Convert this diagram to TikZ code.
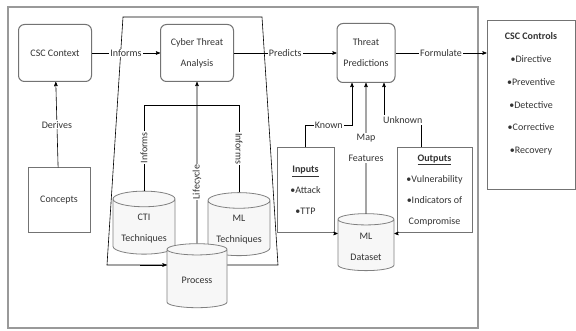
\documentclass[tikz,border=0pt]{standalone}
\usepackage{fontspec}
\setmainfont{Carlito}
\usepackage{tikz}
\usetikzlibrary{arrows,shapes.geometric}

\begin{document}
\begin{tikzpicture}[>=stealth',x=1pt,y=1pt,semithick,
                    font=\fontsize{10}{21}\selectfont]
  \tikzstyle{box}=[draw=black!55,line width=1pt,text=black!80,align=center,inner sep=2pt]
  \tikzstyle{rbox}=[box,rounded corners=6pt,minimum width=73pt,minimum height=57pt]
  \tikzstyle{db}=[cylinder,shape border rotate=90,aspect=0.3,draw=black!50,line width=0.8pt,
                  fill=black!3,text=black!80,align=center,minimum width=62pt,minimum height=63pt]
  \tikzstyle{lbl}=[fill=white,inner sep=1pt,text=black!80,align=center]

  \useasboundingbox (0,0) rectangle (576,-331);
  \draw[draw=black!40,line width=2pt] (8,-7) rectangle (478,-328);

  % analysis area
  \draw (123,-17) -- (262,-17) -- (278,-265) -- (107,-265) -- cycle;

  \node[rbox] (ctx) at (55,-53)              {CSC Context};
  \node[rbox] (cta) [right of=ctx,node distance=142pt] {Cyber Threat\\Analysis};
  \node[rbox,minimum width=58pt,minimum height=59pt] (tp) [right of=cta,node distance=169pt] {Threat\\Predictions};
  \node[box,minimum width=62pt,minimum height=65pt] (concepts) at (59,-200.5) {Concepts};
  \node[box,minimum width=88pt,minimum height=169pt] (ctrl) at (531,-105.5) {};
  \node[text=black!80,align=center,anchor=north,font=\fontsize{10}{22.8}\selectfont]
       (ctrltext) at (531,-29) {\textbf{CSC Controls}\\•Directive\\•Preventive\\•Detective\\•Corrective\\•Recovery};

  \node[db] (cti)  at (144,-228.5) {CTI\\Techniques};
  \node[db] (mlt)  at (239,-230)   {ML\\Techniques};
  \node[db,minimum width=60pt,minimum height=64pt] (proc) at (197,-280) {Process};
  \node[db,minimum width=56pt,minimum height=57pt] (mld)  at (366,-246.5) {ML\\Dataset};

  \node[box,minimum width=57pt,minimum height=85pt] (inputs) at (305.5,-190.5)
       {\underline{\textbf{Inputs}}\\•Attack\\•TTP};
  \node[box,minimum width=75pt,minimum height=85pt] (outputs) at (434.5,-190.5)
       {\underline{\textbf{Outputs}}\\•Vulnerability\\•Indicators of\\Compromise};

  \coordinate (known)   at ([xshift=-14pt]tp.south);
  \coordinate (unknown) at ([xshift=18pt]tp.south);
  \coordinate (bar)     at (0,-105);

  \draw[->] (ctx) -- node[lbl] {Informs} (cta);
  \draw[->] (concepts) -- node[lbl] {Derives} (ctx);
  \draw[->] (cta) -- node[lbl] {Predicts} (tp);
  \draw[->] (tp.east) -- node[lbl] {Formulate} (tp.east -| ctrl.west);

  \draw[->] (proc.north) -- node[lbl,rotate=90,pos=0.38] {Lifecycle} (cta.south);
  \draw (cti.north) -- node[lbl,rotate=90] {Informs} (cti.north |- bar)
        -- (mlt.north |- bar) -- node[lbl,rotate=-90] {Informs} (mlt.north);
  \draw[->] (140,-265) -- (proc.west |- 0,-265);

  \draw[->] (inputs.north) |- node[lbl,pos=0.75] {Known} (known |- 0,-125) -- (known);
  \draw[->] (mld.north) -- node[lbl,pos=0.5] {Map\\Features} (tp.south);
  \draw[->] ([xshift=25pt]outputs.north west) |- node[lbl,pos=0.75] {Unknown} (unknown |- 0,-120) -- (unknown);
  \draw[->] (inputs.south east) -- (inputs.south east -| mld.west);
  \draw[->] (outputs.south west) -- (outputs.south west -| mld.east);
\end{tikzpicture}
\end{document}
